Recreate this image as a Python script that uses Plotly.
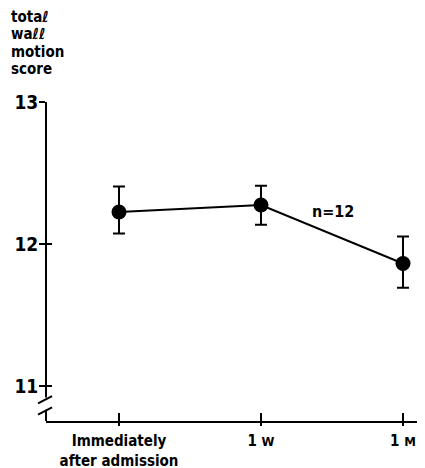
import plotly.graph_objects as go

# ---- data ----
time_labels = ["Immediately<br>after admission",
               "1 <span style='font-size:13px'>W</span>",
               "1 <span style='font-size:13px'>M</span>"]
time_pos = [0, 1, 2]
score_mean = [12.225, 12.275, 11.863]
err_plus = [0.18, 0.136, 0.19]
err_minus = [0.15, 0.14, 0.17]
y_ticks = [11, 12, 13]
title_lines = ["totaℓ", "waℓℓ", "motion", "score"]
n_label = "n=12"

FONT = "DejaVu Sans Condensed, DejaVu Sans, sans-serif"
W = "bold"

fig = go.Figure()
fig.add_trace(go.Scatter(
    x=time_pos, y=score_mean, mode="lines+markers",
    line=dict(color="black", width=2),
    marker=dict(color="black", size=15),
    error_y=dict(type="data", symmetric=False, array=err_plus, arrayminus=err_minus,
                 color="black", thickness=2, width=6),
    showlegend=False, hoverinfo="skip"))
# invisible trace to anchor the overlay axes (inner ticks)
fig.add_trace(go.Scatter(x=[time_pos[0]], y=[score_mean[0]], xaxis="x2", yaxis="y2",
                         mode="markers", marker=dict(opacity=0), showlegend=False,
                         hoverinfo="skip"))

xr = [-0.514, 2.155]
yr = [10.754, 13]

fig.update_layout(
    width=417, height=460,
    margin=dict(l=38, r=0, t=94, b=47),
    paper_bgcolor="white", plot_bgcolor="white",
    font=dict(family=FONT, color="black", weight=W),
    xaxis=dict(range=xr, tickvals=time_pos, ticktext=time_labels, showgrid=False,
               zeroline=False, showline=True, linecolor="black", linewidth=2,
               ticks="outside", ticklen=3, tickwidth=2, tickcolor="black",
               ticklabelstandoff=2, automargin=False,
               tickfont=dict(size=15, family=FONT, color="black", weight=W)),
    xaxis2=dict(range=xr, overlaying="x", anchor="y", tickvals=time_pos,
                showticklabels=False, showgrid=False, zeroline=False,
                ticks="inside", ticklen=8, tickwidth=2, tickcolor="black"),
    yaxis=dict(range=yr, tickvals=y_ticks, ticktext=[str(v) for v in y_ticks],
               showgrid=False, zeroline=False, showline=False,
               ticks="outside", ticklen=6, tickwidth=2, tickcolor="black",
               ticklabelstandoff=-3, automargin=False,
               tickfont=dict(size=19, family=FONT, color="black", weight=W)),
    yaxis2=dict(range=yr, overlaying="y", anchor="x", side="left", tickvals=y_ticks,
                showticklabels=False, showgrid=False, zeroline=False,
                ticks="inside", ticklen=6, tickwidth=2, tickcolor="black"),
)

# broken y axis line and break marks
ax_line = dict(color="black", width=2)
fig.add_shape(type="line", xref="paper", yref="paper", x0=0, x1=0, y0=0.074, y1=1, line=ax_line)
fig.add_shape(type="line", xref="paper", yref="paper", x0=0, x1=0, y0=0, y1=0.035, line=ax_line)
fig.add_shape(type="line", xref="paper", yref="paper", x0=-0.021, x1=0.016, y0=0.055, y1=0.078, line=ax_line)
fig.add_shape(type="line", xref="paper", yref="paper", x0=-0.021, x1=0.016, y0=0.020, y1=0.043, line=ax_line)

# y-axis title lines
for i, t in enumerate(title_lines):
    fig.add_annotation(text=t, xref="paper", yref="paper",
                       x=-0.0976, y=1.2665 - i * 0.0545, xanchor="left", yanchor="middle",
                       showarrow=False, font=dict(size=15, family=FONT, color="black", weight=W))

fig.add_annotation(text=n_label, x=1.507, y=12.23, xref="x", yref="y",
                   showarrow=False, font=dict(size=16, family=FONT, color="black", weight=W))

fig.write_html("out.html")
